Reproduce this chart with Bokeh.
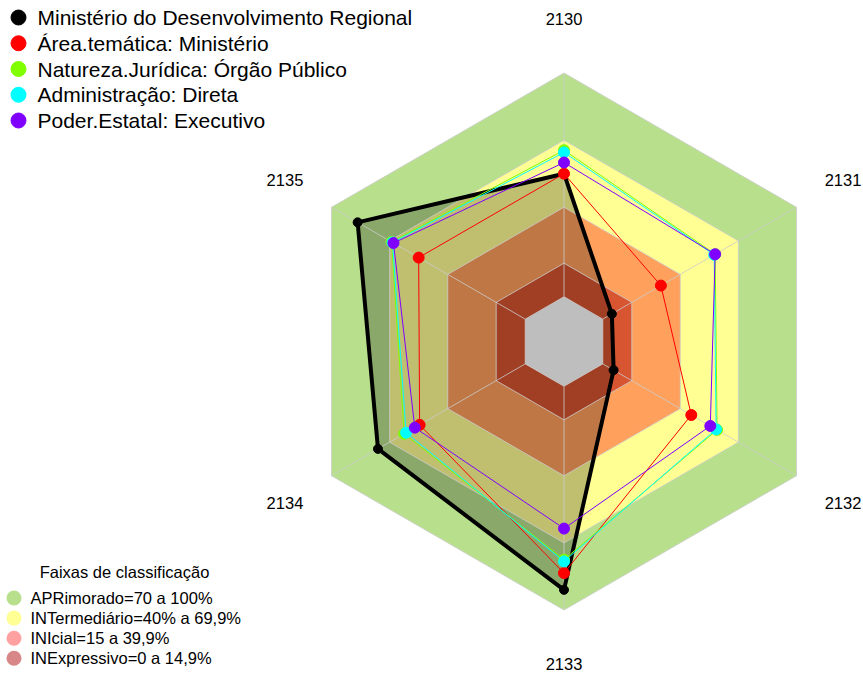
import numpy as np
from bokeh.plotting import figure
from bokeh.models import Range1d
from bokeh.core.properties import value
from bokeh.embed import file_html
from bokeh.resources import INLINE

# ---------------- data ----------------
axis_labels = ["2130", "2131", "2132", "2133", "2134", "2135"]
series_names = ["Ministério do Desenvolvimento Regional",
                "Área.temática: Ministério",
                "Natureza.Jurídica: Órgão Público",
                "Administração: Direta",
                "Poder.Estatal: Executivo"]
ministerio = [55, 4.7, 5.6, 91, 76, 86.5]
area_tematica = [55, 30, 45.7, 83.5, 54.5, 55]
natureza = [65.5, 58, 59, 77.5, 62.5, 69]
administracao = [64.5, 57.5, 58.5, 78.3, 61.5, 68.5]
poder = [60, 58, 55.5, 63.6, 57, 68]

band_names = ["APRimorado=70 a 100%", "INTermediário=40% a 69,9%",
              "INIcial=15 a 39,9%", "INExpressivo=0 a 14,9%"]
band_limits = [100, 70, 40, 15]
legend_title = "Faixas de classificação"

# ---------------- style / layout ----------------
FONT = "Liberation Sans"
W, H = 863, 675
R = 268.5             # pixels per unit radius
CX, CY = 563.5, 341   # centre in canvas pixels
HOLE = 1.0 / 6.0

series_colors = ["#000000", "#FF0000", "#80FF00", "#00FFFF", "#8000FF"]
series_widths = [4, 1, 1, 1, 1]
series_sizes = [9, 11, 11, 11, 11]
band_colors = ["#B8E08C", "#FFFF94", "#FF0000", "#AA0000"]
band_alphas = [1.0, 1.0, 0.37, 0.47]

theta = np.deg2rad(90 - 60 * np.arange(len(axis_labels)))


def rad(v):
    return HOLE + (1 - HOLE) * np.asarray(v, dtype=float) / 100.0


def poly(vals):
    r = rad(vals)
    return list(r * np.cos(theta)), list(r * np.sin(theta))


def sx(px):
    return (np.asarray(px, dtype=float) - CX) / R


def sy(py):
    return (CY - np.asarray(py, dtype=float)) / R


p = figure(width=W, height=H, output_backend="svg", toolbar_location=None,
           x_range=Range1d(-CX / R, (W - CX) / R),
           y_range=Range1d(-(H - CY) / R, CY / R),
           min_border=0, min_border_left=0, min_border_right=0,
           min_border_top=0, min_border_bottom=0)
p.axis.visible = False
p.grid.visible = False
p.outline_line_color = None
p.background_fill_color = "white"

# bands (stacked full hexagons)
for lim, col, al in zip(band_limits, band_colors, band_alphas):
    xs, ys = poly([lim] * 6)
    p.patch(xs, ys, fill_color=col, fill_alpha=al, line_color=None)

all_series = [ministerio, area_tematica, natureza, administracao, poder]

# filled area of the main series
xs0, ys0 = poly(ministerio)
p.patch(xs0, ys0, fill_color="black", fill_alpha=0.25, line_color=None)

# centre hole
xs, ys = poly([0] * 6)
p.patch(xs, ys, fill_color="#BEBEBE", line_color=None)

# grid
for lim in [0] + band_limits:
    xs, ys = poly([lim] * 6)
    p.patch(xs, ys, fill_color=None, line_color="#CCCCCC", line_alpha=0.8, line_width=1)
r0 = rad(0)
r1 = rad(100)
p.segment(x0=list(r0 * np.cos(theta)), y0=list(r0 * np.sin(theta)),
          x1=list(r1 * np.cos(theta)), y1=list(r1 * np.sin(theta)),
          line_color="#CCCCCC", line_alpha=0.8, line_width=1)

# series
for vals, col, lw, sz in zip(all_series, series_colors, series_widths, series_sizes):
    xs, ys = poly(vals)
    p.line(xs + xs[:1], ys + ys[:1], line_color=col, line_width=lw)
    p.scatter(xs, ys, size=sz, fill_color=col, line_color=col)

# axis labels
lab_r = 1.2
p.text(x=list(lab_r * np.cos(theta)), y=list(lab_r * np.sin(theta)), text=axis_labels,
       text_font=value(FONT), text_font_size="16.5px", text_color="black",
       text_align="center", text_baseline="middle")

# ---- series legend (top-left) ----
L1_X, L1_TX, L1_Y0, L1_DY = 18, 37, 17, 25.75
rows1 = L1_Y0 + L1_DY * np.arange(len(series_names))
p.scatter(x=list(sx([L1_X] * len(series_names))), y=list(sy(rows1)), size=15,
          fill_color=series_colors, line_color=series_colors)
p.text(x=list(sx([L1_TX] * len(series_names))), y=list(sy(rows1)), text=series_names,
       text_font=value(FONT), text_font_size="21px", text_color="black",
       text_align="left", text_baseline="middle")

# ---- band legend (bottom-left) ----
L2_X, L2_TX, L2_Y0, L2_DY = 13.5, 30, 597.5, 20.1
rows2 = L2_Y0 + L2_DY * np.arange(len(band_names))
p.scatter(x=list(sx([L2_X] * len(band_names))), y=list(sy(rows2)), size=15,
          fill_color=band_colors, fill_alpha=band_alphas, line_color=None)
p.text(x=list(sx([L2_TX] * len(band_names))), y=list(sy(rows2)), text=band_names,
       text_font=value(FONT), text_font_size="16.5px", text_color="black",
       text_align="left", text_baseline="middle")
p.text(x=[float(sx(124))], y=[float(sy(571))], text=[legend_title],
       text_font=value(FONT), text_font_size="16.5px", text_color="black",
       text_align="center", text_baseline="middle")

open("out.html", "w").write(file_html(p, INLINE))
